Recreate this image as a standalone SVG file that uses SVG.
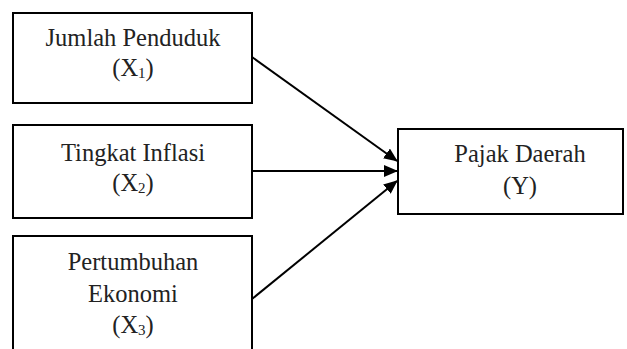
<svg xmlns="http://www.w3.org/2000/svg" width="627" height="349" viewBox="0 0 627 349">
<style>
.box{fill:#fff;stroke:#000;stroke-width:2}
.t{font-family:'Liberation Serif','Times New Roman',Times,serif;font-size:24.5px;fill:#222;text-anchor:middle}
.sub{font-size:15px}
.c{stroke:#000;stroke-width:2;fill:none}
</style>
<defs>
<marker id="ah" markerUnits="userSpaceOnUse" markerWidth="14" markerHeight="12" refX="13" refY="6" orient="auto">
<path d="M0,0 L14,6 L0,12 z" fill="#000"/>
</marker>
</defs>
<rect width="627" height="349" fill="#fff"/>
<g id="x1">
<rect class="box" x="13" y="13" width="239" height="90"/>
<text class="t" x="133" y="46" font-family="Liberation Serif">Jumlah Penduduk</text>
<text class="t" x="133" y="76" font-family="Liberation Serif">(X<tspan class="sub" dy="2">1</tspan><tspan dy="-2">)</tspan></text>
</g>
<g id="x2">
<rect class="box" x="13" y="125" width="239" height="93"/>
<text class="t" x="133" y="161" font-family="Liberation Serif">Tingkat Inflasi</text>
<text class="t" x="133" y="191" font-family="Liberation Serif">(X<tspan class="sub" dy="2">2</tspan><tspan dy="-2">)</tspan></text>
</g>
<g id="x3">
<rect class="box" x="13" y="236" width="239" height="130"/>
<text class="t" x="133" y="270" font-family="Liberation Serif">Pertumbuhan</text>
<text class="t" x="133" y="302" font-family="Liberation Serif">Ekonomi</text>
<text class="t" x="133" y="333" font-family="Liberation Serif">(X<tspan class="sub" dy="2">3</tspan><tspan dy="-2">)</tspan></text>
</g>
<g id="y">
<rect class="box" x="398" y="129" width="225" height="85"/>
<text class="t" x="520" y="162" font-family="Liberation Serif">Pajak Daerah</text>
<text class="t" x="520" y="194" font-family="Liberation Serif">(Y)</text>
</g>
<g id="connectors">
<line class="c" x1="252" y1="57" x2="397" y2="161" marker-end="url(#ah)"/>
<line class="c" x1="252" y1="171" x2="397" y2="171" marker-end="url(#ah)"/>
<line class="c" x1="252" y1="299" x2="397" y2="181" marker-end="url(#ah)"/>
</g>
</svg>
